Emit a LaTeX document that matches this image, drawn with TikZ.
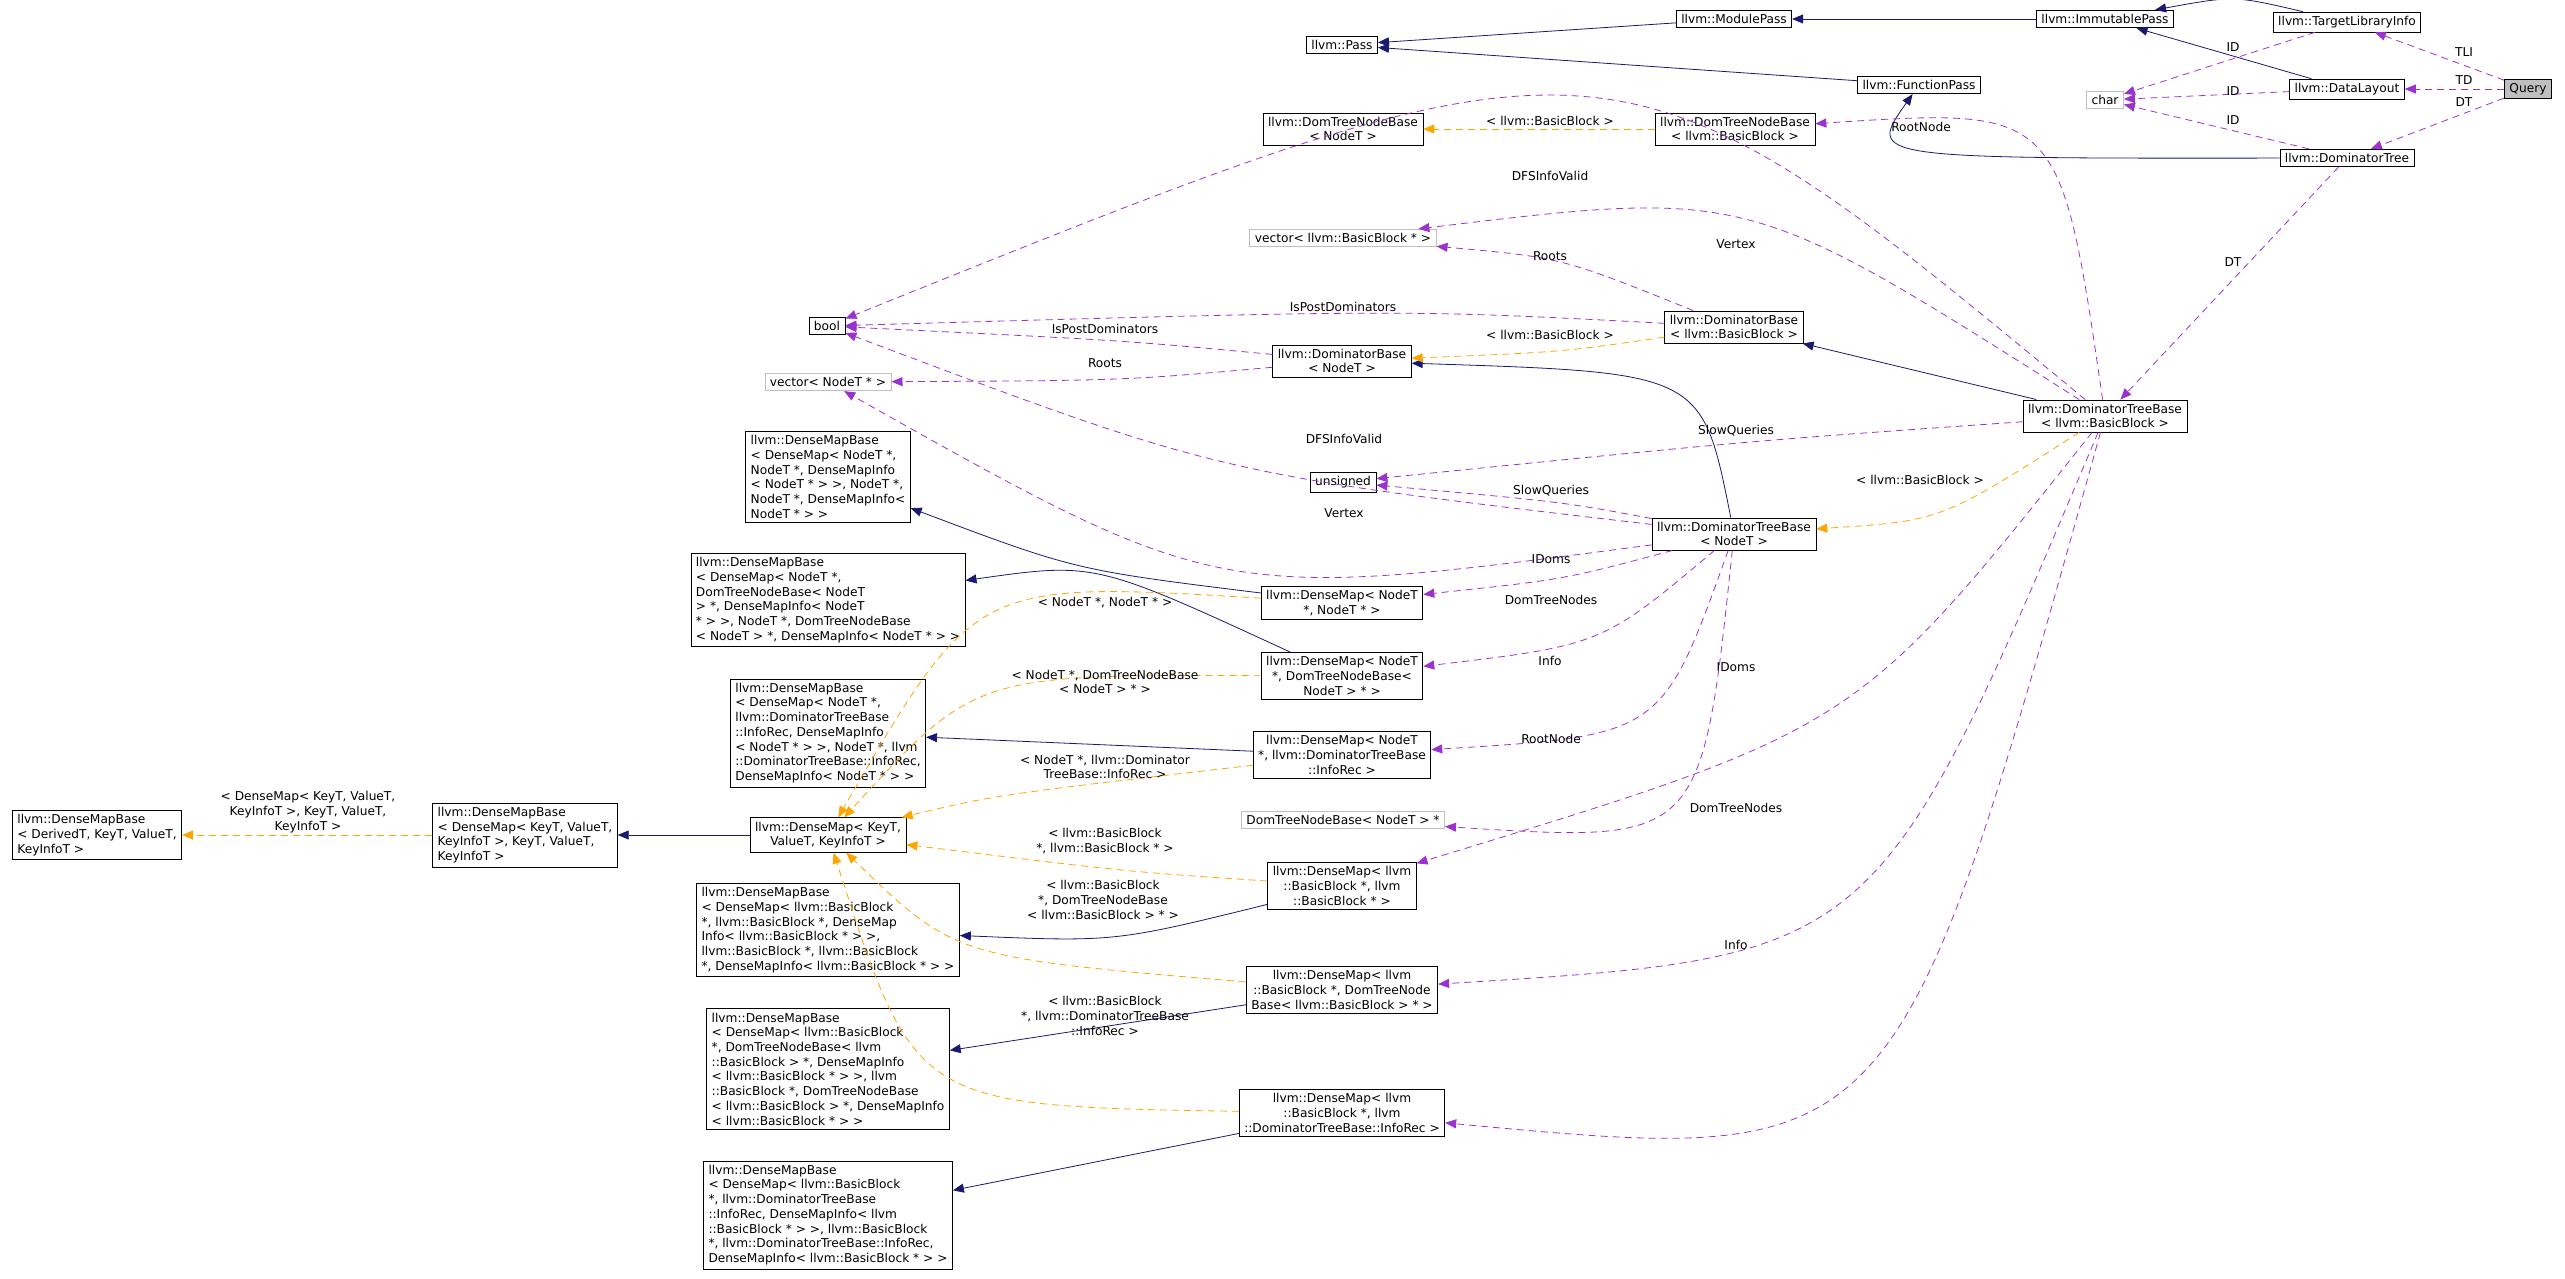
\documentclass[tikz,border=0pt]{standalone}
\usepackage{fontspec}
\setmainfont{DejaVu Sans}
\usetikzlibrary{arrows.meta,calc}
\definecolor{inherit}{HTML}{191970}
\definecolor{uses}{HTML}{9A32CD}
\definecolor{templ}{HTML}{FFA500}
\definecolor{extbox}{HTML}{BFBFBF}
\tikzset{
  cls/.style={draw=black, thick, fill=white, inner xsep=5pt, inner ysep=4pt, align=center,
    font=\fontsize{12.2}{14.7}\selectfont},
  clsl/.style={cls, align=left},
  ext/.style={cls, draw=extbox},
  lbl/.style={font=\fontsize{12.2}{14.7}\selectfont, align=center, inner sep=1pt},
  isa/.style={draw=inherit, thick, -{Triangle[length=11pt,width=9pt]}},
  usedby/.style={draw=uses, thick, dash pattern=on 7pt off 5pt, -{Triangle[length=11pt,width=9pt]}},
  inst/.style={draw=templ, thick, dash pattern=on 7pt off 5pt, -{Triangle[length=11pt,width=9pt]}}
}
% curve from #2 to #3 that passes through #4
\newcommand{\link}[4]{\draw[#1] (#2) .. controls ($2*(#4)-0.5*(#2)-0.5*(#3)$) .. (#3);}
\newcommand{\lbl}[2]{\node[lbl] at (#1) {#2};}

\begin{document}
\begin{tikzpicture}[x=1pt,y=-1pt]
  \useasboundingbox (0,0) rectangle (2565,1278);

  % top classes
  \node[cls, fill=extbox] (query) at (2528,89) {Query};
  \node[cls] (tli) at (2347,22) {llvm::TargetLibraryInfo};
  \node[cls] (dl) at (2347,89) {llvm::DataLayout};
  \node[cls] (imm) at (2105,19) {llvm::ImmutablePass};
  \node[cls] (mod) at (1734,19) {llvm::ModulePass};
  \node[cls] (pass) at (1342,45) {llvm::Pass};
  \node[cls] (fp) at (1919,85) {llvm::FunctionPass};
  \node[ext] (chr) at (2105,100) {char};
  \node[cls] (dt) at (2347,158) {llvm::DominatorTree};
  \node[cls] (dtnbN) at (1343,129) {llvm::DomTreeNodeBase\\< NodeT >};
  \node[cls] (dtnbB) at (1735,129) {llvm::DomTreeNodeBase\\< llvm::BasicBlock >};
  \node[ext] (vecB) at (1343,238) {vector< llvm::BasicBlock * >};
  \node[cls] (bool) at (827,326) {bool};
  \node[cls] (dbB) at (1734,327) {llvm::DominatorBase\\< llvm::BasicBlock >};
  \node[cls] (dbN) at (1342,361) {llvm::DominatorBase\\< NodeT >};
  \node[ext] (vecN) at (828,382) {vector< NodeT * >};
  \node[cls] (dtbB) at (2105,416) {llvm::DominatorTreeBase\\< llvm::BasicBlock >};
  \node[cls] (unsigned) at (1343,482) {unsigned};
  \node[cls] (dtbN) at (1734,534) {llvm::DominatorTreeBase\\< NodeT >};

  % dense map bases
  \node[clsl] (dmb1) at (828,477) {llvm::DenseMapBase\\< DenseMap< NodeT *,\\NodeT *, DenseMapInfo\\< NodeT * > >, NodeT *,\\NodeT *, DenseMapInfo<\\NodeT * > >};
  \node[clsl] (dmb2) at (828,600) {llvm::DenseMapBase\\< DenseMap< NodeT *,\\DomTreeNodeBase< NodeT\\> *, DenseMapInfo< NodeT\\* > >, NodeT *, DomTreeNodeBase\\< NodeT > *, DenseMapInfo< NodeT * > >};
  \node[clsl] (dmb3) at (828,733) {llvm::DenseMapBase\\< DenseMap< NodeT *,\\llvm::DominatorTreeBase\\::InfoRec, DenseMapInfo\\< NodeT * > >, NodeT *, llvm\\::DominatorTreeBase::InfoRec,\\DenseMapInfo< NodeT * > >};
  \node[clsl] (dmbD) at (97,835) {llvm::DenseMapBase\\< DerivedT, KeyT, ValueT,\\KeyInfoT >};
  \node[clsl] (dmbK) at (525,835) {llvm::DenseMapBase\\< DenseMap< KeyT, ValueT,\\KeyInfoT >, KeyT, ValueT,\\KeyInfoT >};
  \node[cls] (dmK) at (828,835) {llvm::DenseMap< KeyT,\\ValueT, KeyInfoT >};
  \node[clsl] (dmb4) at (828,930) {llvm::DenseMapBase\\< DenseMap< llvm::BasicBlock\\*, llvm::BasicBlock *, DenseMap\\Info< llvm::BasicBlock * > >,\\llvm::BasicBlock *, llvm::BasicBlock\\*, DenseMapInfo< llvm::BasicBlock * > >};
  \node[clsl] (dmb5) at (828,1069) {llvm::DenseMapBase\\< DenseMap< llvm::BasicBlock\\*, DomTreeNodeBase< llvm\\::BasicBlock > *, DenseMapInfo\\< llvm::BasicBlock * > >, llvm\\::BasicBlock *, DomTreeNodeBase\\< llvm::BasicBlock > *, DenseMapInfo\\< llvm::BasicBlock * > >};
  \node[clsl] (dmb6) at (828,1215) {llvm::DenseMapBase\\< DenseMap< llvm::BasicBlock\\*, llvm::DominatorTreeBase\\::InfoRec, DenseMapInfo< llvm\\::BasicBlock * > >, llvm::BasicBlock\\*, llvm::DominatorTreeBase::InfoRec,\\DenseMapInfo< llvm::BasicBlock * > >};

  % dense maps
  \node[cls] (dmNN) at (1342,603) {llvm::DenseMap< NodeT\\*, NodeT * >};
  \node[cls] (dmNT) at (1342,676) {llvm::DenseMap< NodeT\\*, DomTreeNodeBase<\\NodeT > * >};
  \node[cls] (dmNI) at (1342,755) {llvm::DenseMap< NodeT\\*, llvm::DominatorTreeBase\\::InfoRec >};
  \node[ext] (dtnbP) at (1343,820) {DomTreeNodeBase< NodeT > *};
  \node[cls] (dmBB) at (1342,886) {llvm::DenseMap< llvm\\::BasicBlock *, llvm\\::BasicBlock * >};
  \node[cls] (dmBT) at (1342,990) {llvm::DenseMap< llvm\\::BasicBlock *, DomTreeNode\\Base< llvm::BasicBlock > * >};
  \node[cls] (dmBI) at (1342,1113) {llvm::DenseMap< llvm\\::BasicBlock *, llvm\\::DominatorTreeBase::InfoRec >};

  % inheritance
  \draw[isa] (mod) -- (pass);
  \draw[isa] (fp) -- (pass);
  \draw[isa] (imm) -- (mod);
  \link{isa}{tli}{imm}{2230,8}
  \draw[isa] (dl) -- (imm);
  \link{isa}{dt}{fp}{2000,140}
  \draw[isa] (dtbB) -- (dbB);
  \link{isa}{dtbN}{dbN}{1620,410}
  \link{isa}{dmNN}{dmb1}{1080,555}
  \link{isa}{dmNT}{dmb2}{1090,600}
  \draw[isa] (dmNI) -- (dmb3);
  \draw[isa] (dmK) -- (dmbK);
  \link{isa}{dmBB}{dmb4}{1100,925}
  \draw[isa] (dmBT) -- (dmb5);
  \draw[isa] (dmBI) -- (dmb6);

  % template instances
  \draw[inst] (dmbK) -- (dmbD);
  \lbl{308,812}{< DenseMap< KeyT, ValueT,\\KeyInfoT >, KeyT, ValueT,\\KeyInfoT >}
  \draw[inst] (dtnbB) -- (dtnbN);
  \lbl{1550,121}{< llvm::BasicBlock >}
  \link{inst}{dbB}{dbN}{1550,348}
  \lbl{1550,335}{< llvm::BasicBlock >}
  \link{inst}{dtbB}{dtbN}{1930,498}
  \lbl{1920,480}{< llvm::BasicBlock >}
  \link{inst}{dmNN}{dmK}{1030,650}
  \lbl{1105,603}{< NodeT *, NodeT * >}
  \link{inst}{dmNT}{dmK}{1030,715}
  \lbl{1105,682}{< NodeT *, DomTreeNodeBase\\< NodeT > * >}
  \link{inst}{dmNI}{dmK}{1040,795}
  \lbl{1105,767}{< NodeT *, llvm::Dominator\\TreeBase::InfoRec >}
  \link{inst}{dmBB}{dmK}{1105,866}
  \lbl{1105,841}{< llvm::BasicBlock\\*, llvm::BasicBlock * >}
  \link{inst}{dmBT}{dmK}{1020,935}
  \lbl{1103,900}{< llvm::BasicBlock\\*, DomTreeNodeBase\\< llvm::BasicBlock > * >}
  \link{inst}{dmBI}{dmK}{1000,1040}
  \lbl{1105,1016}{< llvm::BasicBlock\\*, llvm::DominatorTreeBase\\::InfoRec >}

  % members
  \draw[usedby] (query) -- (tli);
  \lbl{2464,52}{TLI}
  \draw[usedby] (query) -- (dl);
  \lbl{2464,80}{TD}
  \draw[usedby] (query) -- (dt);
  \lbl{2464,102}{DT}
  \draw[usedby] (tli) -- (chr);
  \lbl{2233,47}{ID}
  \draw[usedby] (dl) -- (chr);
  \lbl{2233,91}{ID}
  \draw[usedby] (dt) -- (chr);
  \lbl{2233,120}{ID}
  \draw[usedby] (dt) -- (dtbB);
  \lbl{2233,262}{DT}
  \link{usedby}{dtbB}{dtnbB}{1990,190}
  \lbl{1921,127}{RootNode}
  \link{usedby}{dtbB}{bool}{1540,190}
  \lbl{1550,176}{DFSInfoValid}
  \link{usedby}{dtbB}{vecB}{1736,258}
  \lbl{1736,244}{Vertex}
  \link{usedby}{dtbB}{unsigned}{1736,445}
  \lbl{1736,431}{SlowQueries}
  \link{usedby}{dtbB}{dmBB}{1790,690}
  \lbl{1736,667}{IDoms}
  \link{usedby}{dtbB}{dmBT}{1800,830}
  \lbl{1736,808}{DomTreeNodes}
  \link{usedby}{dtbB}{dmBI}{1810,965}
  \lbl{1736,945}{Info}
  \link{usedby}{dbB}{vecB}{1550,270}
  \lbl{1550,256}{Roots}
  \link{usedby}{dbB}{bool}{1343,318}
  \lbl{1343,307}{IsPostDominators}
  \link{usedby}{dbN}{bool}{1105,342}
  \lbl{1105,329}{IsPostDominators}
  \link{usedby}{dbN}{vecN}{1105,376}
  \lbl{1105,363}{Roots}
  \link{usedby}{dtbN}{bool}{1250,452}
  \lbl{1344,439}{DFSInfoValid}
  \link{usedby}{dtbN}{vecN}{1250,530}
  \lbl{1344,513}{Vertex}
  \link{usedby}{dtbN}{unsigned}{1551,505}
  \lbl{1551,491}{SlowQueries}
  \link{usedby}{dtbN}{dmNN}{1551,574}
  \lbl{1551,559}{IDoms}
  \link{usedby}{dtbN}{dmNT}{1570,625}
  \lbl{1551,600}{DomTreeNodes}
  \link{usedby}{dtbN}{dmNI}{1600,690}
  \lbl{1550,661}{Info}
  \link{usedby}{dtbN}{dtnbP}{1620,760}
  \lbl{1551,739}{RootNode}
\end{tikzpicture}
\end{document}
